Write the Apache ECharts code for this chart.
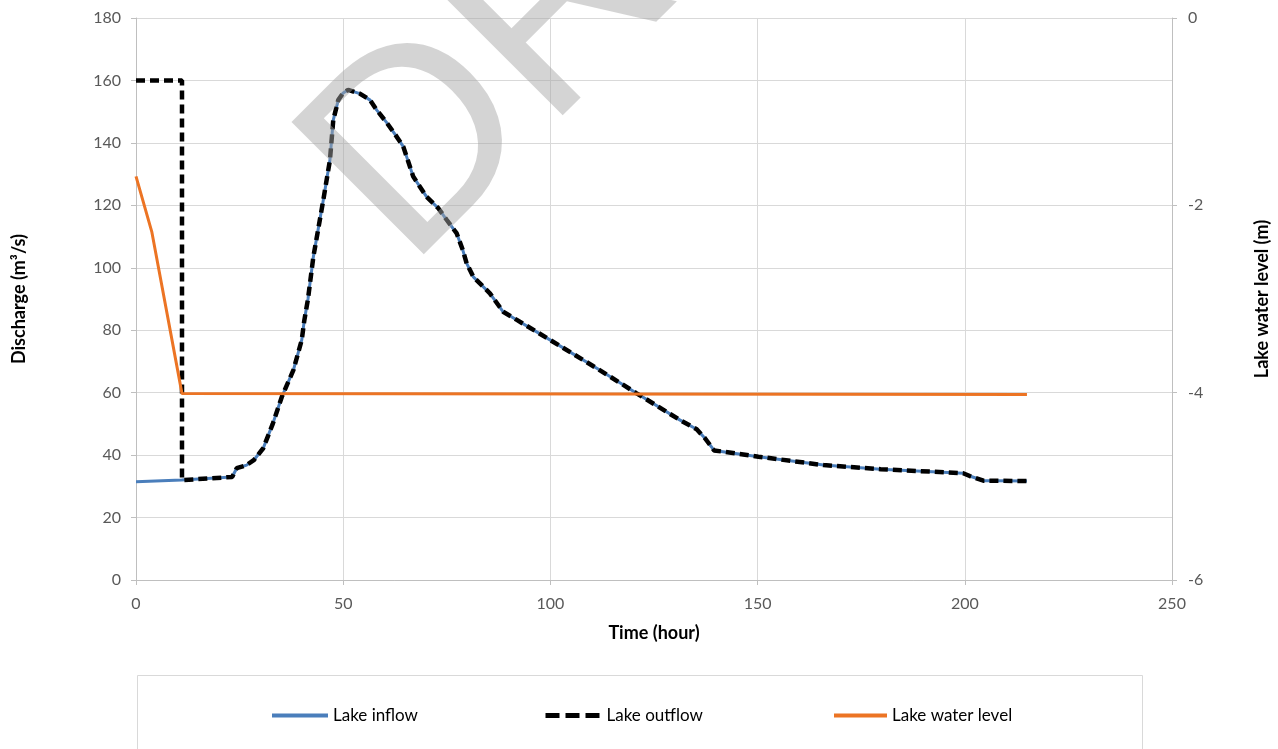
<!DOCTYPE html>
<html>
<head>
<meta charset="utf-8">
<script src="https://cdn.jsdelivr.net/npm/echarts@6/dist/echarts.min.js"></script>
<style>html,body{margin:0;padding:0;background:#fff}#c{width:1278px;height:749px}</style>
</head>
<body>
<div id="c"></div>
<script>
// ---- data ----
const xTicks = [0, 50, 100, 150, 200, 250];
const leftTicks = [0, 20, 40, 60, 80, 100, 120, 140, 160, 180];
const rightTicks = [-6, -4, -2, 0];

const inflowHours = [0, 11, 23.2, 24.3, 26.7, 28.5, 30.7, 33, 35.2, 38, 40, 40.6, 41.5, 42.8, 45.2, 46.8, 47.6, 48.8, 50, 51.2, 54, 56.5, 58.1, 60.5, 62.9, 64.5, 66.9, 70.1, 73, 75, 77.4, 78.9, 79.8, 81.4, 85.4, 88.6, 91.9, 99.9, 111.2, 120.8, 131.3, 135.3, 137.3, 139.5, 150.2, 165.9, 179.7, 199.6, 201.2, 204.5, 206.9, 215];
const inflowValues = [31.5, 32, 33, 35.8, 36.8, 38.5, 42.2, 50, 58.7, 67.3, 76.9, 83, 90, 103.5, 121.7, 134.5, 147.3, 153.7, 156, 157, 155.8, 153.7, 150.5, 146.5, 142, 138.8, 129.2, 122.8, 119, 115.3, 111, 105.5, 101.4, 97.1, 91.8, 85.9, 83.3, 76.9, 67.8, 59.8, 51.2, 48.3, 45.4, 41.5, 39.5, 36.8, 35.5, 34.2, 33.3, 31.8, 31.8, 31.7];

const outflowHours = [0, 11.1, 11.1, 23.2, 24.3, 26.7, 28.5, 30.7, 33, 35.2, 38, 40, 40.6, 41.5, 42.8, 45.2, 46.8, 47.6, 48.8, 50, 51.2, 54, 56.5, 58.1, 60.5, 62.9, 64.5, 66.9, 70.1, 73, 75, 77.4, 78.9, 79.8, 81.4, 85.4, 88.6, 91.9, 99.9, 111.2, 120.8, 131.3, 135.3, 137.3, 139.5, 150.2, 165.9, 179.7, 199.6, 201.2, 204.5, 206.9, 215];
const outflowValues = [160, 160, 32, 33, 35.8, 36.8, 38.5, 42.2, 50, 58.7, 67.3, 76.9, 83, 90, 103.5, 121.7, 134.5, 147.3, 153.7, 156, 157, 155.8, 153.7, 150.5, 146.5, 142, 138.8, 129.2, 122.8, 119, 115.3, 111, 105.5, 101.4, 97.1, 91.8, 85.9, 83.3, 76.9, 67.8, 59.8, 51.2, 48.3, 45.4, 41.5, 39.5, 36.8, 35.5, 34.2, 33.3, 31.8, 31.8, 31.7];

const levelHours = [0, 3.8, 11.1, 11.5, 215];
const levelValues = [-1.69, -2.28, -4.01, -4.02, -4.02];

const seriesNames = ['Lake inflow', 'Lake outflow', 'Lake water level'];
const axisNames = { x: 'Time (hour)', left: 'Discharge (m³/s)', right: 'Lake water level (m)' };
const watermark = 'DRAFT';

// ---- chart ----
const zip = (xs, ys) => xs.map((x, i) => [x, ys[i]]);
const FONT = 'Lato, "Liberation Sans", sans-serif';
const BLUE = '#4a7ebb', ORANGE = '#ec7424', BLACK = '#000';
const chart = echarts.init(document.getElementById('c'), null, { renderer: 'canvas' });
const axisLabel = { color: '#595959', fontSize: 16, fontFamily: FONT };
const nameStyle = { color: '#000', fontSize: 18, fontWeight: 'bold', fontFamily: FONT };
const legendText = { color: '#000', fontSize: 17, fontFamily: FONT };
const legendCommon = {
  top: 707, itemHeight: 14, itemGap: 0, padding: 0, textStyle: legendText,
  itemStyle: { opacity: 0, borderWidth: 0 }
};

chart.setOption({
  animation: false,
  backgroundColor: '#fff',
  grid: { left: 136, right: 106, top: 18, bottom: 169, containLabel: false, outerBoundsMode: 'none' },
  xAxis: {
    type: 'value', min: xTicks[0], max: xTicks[xTicks.length - 1], interval: 50,
    name: axisNames.x, nameLocation: 'middle', nameGap: 44, nameTextStyle: nameStyle,
    axisLine: { show: true, lineStyle: { color: '#bfbfbf', width: 1 } },
    axisTick: { show: true, length: 5, lineStyle: { color: '#bfbfbf' } },
    axisLabel: Object.assign({ margin: 16 }, axisLabel),
    splitLine: { show: true, lineStyle: { color: '#d9d9d9', width: 1 } }
  },
  yAxis: [
    {
      type: 'value', min: leftTicks[0], max: leftTicks[leftTicks.length - 1], interval: 20,
      name: axisNames.left, nameLocation: 'middle', nameGap: 108, nameRotate: 90, nameTextStyle: nameStyle,
      axisLine: { show: true, lineStyle: { color: '#bfbfbf', width: 1 } },
      axisTick: { show: true, length: 5, lineStyle: { color: '#bfbfbf' } },
      axisLabel: Object.assign({ margin: 15 }, axisLabel),
      splitLine: { show: true, lineStyle: { color: '#d9d9d9', width: 1 } }
    },
    {
      type: 'value', position: 'right', min: rightTicks[0], max: rightTicks[rightTicks.length - 1], interval: 2,
      name: axisNames.right, nameLocation: 'middle', nameGap: 81, nameRotate: 90, nameTextStyle: nameStyle,
      axisLine: { show: true, lineStyle: { color: '#bfbfbf', width: 1 } },
      axisTick: { show: true, length: 5, lineStyle: { color: '#bfbfbf' } },
      axisLabel: Object.assign({ margin: 16 }, axisLabel),
      splitLine: { show: false }
    }
  ],
  legend: [
    Object.assign({ data: [seriesNames[0]], left: 270, itemWidth: 56, lineStyle: { width: 4, color: BLUE } }, legendCommon),
    Object.assign({ data: [seriesNames[1]], left: 543, itemWidth: 56, lineStyle: { width: 5, color: BLACK, type: [14, 6] } }, legendCommon),
    Object.assign({ data: [seriesNames[2]], left: 832, itemWidth: 53, lineStyle: { width: 4, color: ORANGE } }, legendCommon)
  ],
  graphic: [
    {
      type: 'rect', silent: true, z: 0,
      shape: { x: 137.5, y: 675.5, width: 1005, height: 120 },
      style: { fill: 'none', stroke: '#d9d9d9', lineWidth: 1 }
    },
    {
      type: 'text', silent: true, z: 100,
      x: 355, y: 217, rotation: Math.PI / 4,
      style: {
        text: watermark, font: '272px "Liberation Sans", sans-serif',
        fill: 'rgba(166,166,166,0.48)', align: 'left', verticalAlign: 'middle'
      }
    }
  ],
  series: [
    {
      name: seriesNames[0], type: 'line', yAxisIndex: 0, data: zip(inflowHours, inflowValues),
      showSymbol: false, symbol: 'none', z: 2,
      lineStyle: { color: BLUE, width: 3 }, itemStyle: { color: BLUE }
    },
    {
      name: seriesNames[1], type: 'line', yAxisIndex: 0, data: zip(outflowHours, outflowValues),
      showSymbol: false, symbol: 'none', z: 3,
      lineStyle: { color: BLACK, width: 4.5, type: [9, 5] }, itemStyle: { color: BLACK }
    },
    {
      name: seriesNames[2], type: 'line', yAxisIndex: 1, data: zip(levelHours, levelValues),
      showSymbol: false, symbol: 'none', z: 4,
      lineStyle: { color: ORANGE, width: 3 }, itemStyle: { color: ORANGE }
    }
  ]
});
</script>
</body>
</html>
